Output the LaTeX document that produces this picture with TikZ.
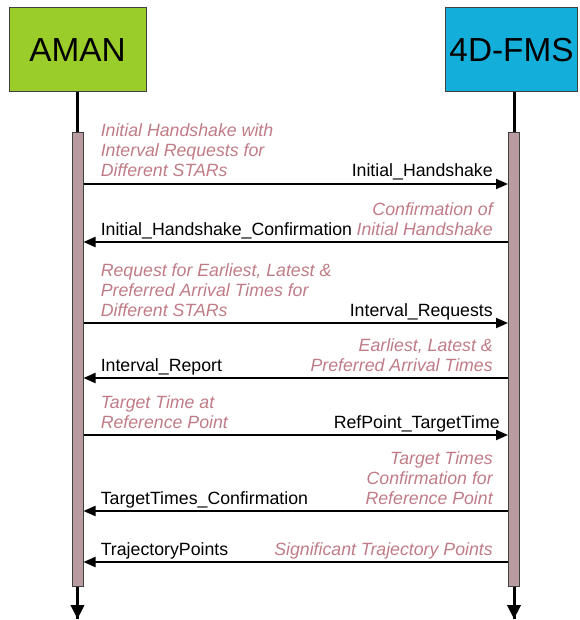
\documentclass[tikz,border=0pt]{standalone}
\usepackage{fontspec}
\setmainfont{Liberation Sans}
\usepackage{tikz}
\usetikzlibrary{arrows.meta,positioning}
\definecolor{amangreen}{RGB}{154,204,42}
\definecolor{fmsblue}{RGB}{20,174,219}
\definecolor{barmauve}{RGB}{185,156,160}
\definecolor{notepink}{RGB}{192,124,134}
\definecolor{edgegray}{RGB}{64,64,64}

\begin{document}
\begin{tikzpicture}[
        x=0.75pt, y=-0.75pt,
        font=\fontsize{13.3}{15}\selectfont,
        actor/.style={rectangle, draw=edgegray, line width=0.75pt, fill=#1, minimum height=63pt, font=\fontsize{25}{30}\selectfont},
        lifebar/.style={rectangle, draw=edgegray, line width=0.75pt, fill=barmauve, inner sep=0pt, minimum width=8.25pt, minimum height=339.75pt},
        life/.style={line width=2.25pt},
        lifeend/.style={line width=2.25pt, -{Triangle[length=10.5pt,width=10pt]}},
        msg/.style={line width=1.5pt, -{Triangle[length=9pt,width=7.5pt]}},
        msglabel/.style={inner sep=0pt},
        note/.style={inner sep=0pt, text=notepink, font=\fontsize{13.3}{15}\selectfont\itshape}
    ]
        \useasboundingbox (0,0) rectangle (579,620);

        % lifelines
        \node[actor=amangreen, minimum width=102.75pt] (aman) at (77.5,50) {AMAN};
        \node[actor=fmsblue, minimum width=97.5pt] (fms) at (511.5,50) {4D-FMS};
        \coordinate (amanend) at (77.5,619);
        \coordinate (fmsend) at (514,619);
        \draw[life] (aman.south -| amanend) -- (amanend);
        \draw[life] (fms.south -| fmsend) -- (fmsend);
        \node[lifebar] (amanbar) at (77.5,359.5) {};
        \node[lifebar] (fmsbar) at (514,359.5) {};
        \draw[lifeend] (amanbar.south) -- (amanend);
        \draw[lifeend] (fmsbar.south) -- (fmsend);

        % message points
        \coordinate (m1a) at (amanbar.east |- 0,184);  \coordinate (m1f) at (fmsbar.west |- 0,184);
        \coordinate (m2a) at (amanbar.east |- 0,242);  \coordinate (m2f) at (fmsbar.west |- 0,242);
        \coordinate (m3a) at (amanbar.east |- 0,323);  \coordinate (m3f) at (fmsbar.west |- 0,323);
        \coordinate (m4a) at (amanbar.east |- 0,378);  \coordinate (m4f) at (fmsbar.west |- 0,378);
        \coordinate (m5a) at (amanbar.east |- 0,435);  \coordinate (m5f) at (fmsbar.west |- 0,435);
        \coordinate (m6a) at (amanbar.east |- 0,511);  \coordinate (m6f) at (fmsbar.west |- 0,511);
        \coordinate (m7a) at (amanbar.east |- 0,562);  \coordinate (m7f) at (fmsbar.west |- 0,562);

        % messages
        \draw[msg] (m1a) -- (m1f);
        \node[msglabel, anchor=base east] (l1) at ([shift={(-15,-7)}]m1f) {Initial\_Handshake};
        \node[note, anchor=base west, align=left] (n1) at ([shift={(17,-7)}]m1a) {Initial Handshake with\\Interval Requests for\\Different STARs};

        \draw[msg] (m2f) -- (m2a);
        \node[msglabel, anchor=base west] (l2) at ([shift={(17,-7)}]m2a) {Initial\_Handshake\_Confirmation};
        \node[note, anchor=base east, align=right] (n2) at ([shift={(-15,-7)}]m2f) {Confirmation of\\Initial Handshake};

        \draw[msg] (m3a) -- (m3f);
        \node[msglabel, anchor=base east] (l3) at ([shift={(-15,-7)}]m3f) {Interval\_Requests};
        \node[note, anchor=base west, align=left] (n3) at ([shift={(17,-7)}]m3a) {Request for Earliest, Latest \&\\Preferred Arrival Times for\\Different STARs};

        \draw[msg] (m4f) -- (m4a);
        \node[msglabel, anchor=base west] (l4) at ([shift={(17,-7)}]m4a) {Interval\_Report};
        \node[note, anchor=base east, align=right] (n4) at ([shift={(-15,-7)}]m4f) {Earliest, Latest \&\\Preferred Arrival Times};

        \draw[msg] (m5a) -- (m5f);
        \node[msglabel, anchor=base east] (l5) at ([shift={(-8,-7)}]m5f) {RefPoint\_TargetTime};
        \node[note, anchor=base west, align=left] (n5) at ([shift={(17,-7)}]m5a) {Target Time at\\Reference Point};

        \draw[msg] (m6f) -- (m6a);
        \node[msglabel, anchor=base west] (l6) at ([shift={(17,-7)}]m6a) {TargetTimes\_Confirmation};
        \node[note, anchor=base east, align=right] (n6) at ([shift={(-15,-7)}]m6f) {Target Times\\Confirmation for\\Reference Point};

        \draw[msg] (m7f) -- (m7a);
        \node[msglabel, anchor=base west] (l7) at ([shift={(17,-7)}]m7a) {TrajectoryPoints};
        \node[note, anchor=base east] (n7) at ([shift={(-15,-7)}]m7f) {Significant Trajectory Points};
    \end{tikzpicture}
\end{document}
